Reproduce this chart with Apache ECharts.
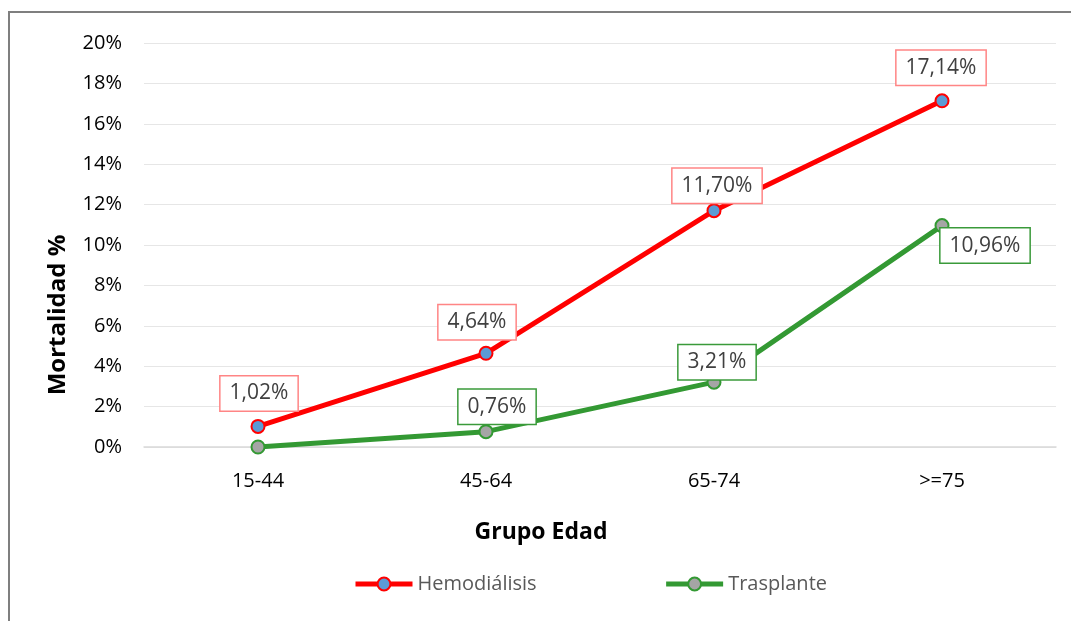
<!DOCTYPE html>
<html><head><meta charset="utf-8">
<script src="https://cdn.jsdelivr.net/npm/echarts@6/dist/echarts.min.js"></script>
<style>html,body{margin:0;padding:0;background:#fff}#c{width:1071px;height:621px}</style>
</head><body><div id="c"></div>
<script>
var categories = ['15-44', '45-64', '65-74', '>=75'];
var hemodialisis = [1.02, 4.64, 11.70, 17.14];
var trasplante = [0.00, 0.76, 3.21, 10.96];
var labelsHemo = ['1,02%', '4,64%', '11,70%', '17,14%'];
var labelsTras = [null, '0,76%', '3,21%', '10,96%'];
var yTicks = [0, 2, 4, 6, 8, 10, 12, 14, 16, 18, 20];

var FONT = '"Open Sans", "Noto Sans", sans-serif';
var hemoOff = [[1, -33], [-9, -31], [3, -25], [-1, -33]];
var trasOff = [[0, 0], [11, -25], [3, -20], [43, 20]];

function mkData(vals, labels, offs, border) {
  return vals.map(function (v, i) {
    var d = { value: v };
    if (labels[i]) {
      d.label = {
        show: true, position: 'inside', offset: offs[i],
        formatter: labels[i], color: '#404040', fontSize: 21, fontFamily: FONT,
        lineHeight: 27,
        backgroundColor: '#fff', borderColor: border, borderWidth: 1.5,
        padding: [4, 9, 3, 9]
      };
    } else {
      d.label = { show: false };
    }
    return d;
  });
}

var chart = echarts.init(document.getElementById('c'));
chart.setOption({
  animation: false,
  backgroundColor: '#fff',
  graphic: [{ type: 'rect', shape: { x: 9, y: 12, width: 1100, height: 700 }, style: { fill: 'none', stroke: '#7f7f7f', lineWidth: 2 }, silent: true }],
  grid: { left: 144, right: 15, top: 43, bottom: 174 },
  legend: {
    left: 348, top: 569, itemWidth: 57, itemHeight: 16, itemGap: 127,
    lineStyle: { width: 5 },
    textStyle: { color: '#595959', fontSize: 20, fontFamily: FONT },
    data: ['Hemodiálisis', 'Trasplante']
  },
  xAxis: {
    type: 'category', data: categories, boundaryGap: true,
    name: 'Grupo Edad', nameLocation: 'middle', nameGap: 74,
    nameTextStyle: { color: '#000', fontSize: 23, fontWeight: 'bold', fontFamily: FONT, padding: [0, 118, 0, 0] },
    axisLine: { lineStyle: { color: '#d9d9d9', width: 1.5 } },
    axisTick: { show: false },
    axisLabel: { color: '#000', fontSize: 20, fontFamily: FONT, margin: 24 }
  },
  yAxis: {
    type: 'value', min: yTicks[0], max: yTicks[yTicks.length - 1], interval: 2,
    name: 'Mortalidad %', nameLocation: 'middle', nameGap: 74, nameRotate: 90,
    nameTextStyle: { color: '#000', fontSize: 24, fontWeight: 'bold', fontFamily: FONT, padding: [0, 140, 0, 0] },
    axisLine: { show: false }, axisTick: { show: false },
    splitLine: { lineStyle: { color: '#e6e6e6', width: 1 } },
    axisLabel: { color: '#000', fontSize: 20, fontFamily: FONT, margin: 22, formatter: '{value}%' }
  },
  series: [
    {
      name: 'Hemodiálisis', type: 'line', data: mkData(hemodialisis, labelsHemo, hemoOff, '#ff8585'),
      symbol: 'circle', symbolSize: 13,
      lineStyle: { color: '#ff0000', width: 5 },
      itemStyle: { color: '#5b9bd5', borderColor: '#ff0000', borderWidth: 2 },
      z: 3
    },
    {
      name: 'Trasplante', type: 'line', data: mkData(trasplante, labelsTras, trasOff, '#3a9a3a'),
      symbol: 'circle', symbolSize: 13,
      lineStyle: { color: '#339933', width: 5 },
      itemStyle: { color: '#a5a5a5', borderColor: '#339933', borderWidth: 2 },
      z: 2
    }
  ]
});
</script></body></html>
